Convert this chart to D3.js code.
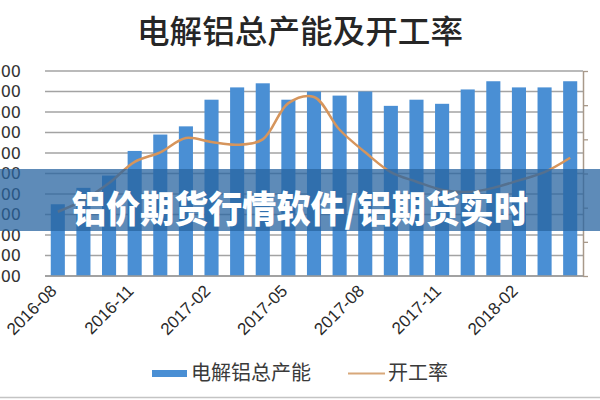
<!DOCTYPE html>
<html><head><meta charset="utf-8">
<script src="https://cdn.jsdelivr.net/npm/d3@7/dist/d3.min.js"></script>
<style>html,body{margin:0;padding:0;background:#fff;overflow:hidden}</style>
</head><body><svg id="c" width="600" height="400"></svg>
<script>
const categories = ["2016-08","2016-09","2016-10","2016-11","2016-12","2017-01","2017-02","2017-03","2017-04","2017-05","2017-06","2017-07","2017-08","2017-09","2017-10","2017-11","2017-12","2018-01","2018-02","2018-03","2018-04"];
const capacity = [3950,4030,4090,4210,4290,4330,4460,4520,4540,4460,4500,4480,4500,4430,4460,4440,4510,4550,4520,4520,4550];
const utilization = [0.694,0.711,0.736,0.767,0.781,0.802,0.796,0.792,0.800,0.853,0.862,0.814,0.781,0.752,0.738,0.726,0.723,0.729,0.740,0.752,0.773];
const leftTicks = [3600,3700,3800,3900,4000,4100,4200,4300,4400,4500,4600];
const rightTicks = [0.60,0.65,0.70,0.75,0.80,0.85,0.90];
const xTickLabels = ["2016-08","2016-11","2017-02","2017-05","2017-08","2017-11","2018-02"];
const titleText = "电解铝总产能及开工率";
const seriesNames = ["电解铝总产能","开工率"];
const bannerText = "铝价期货行情软件/铝期货实时";

const svg = d3.select("#c");
const L = 45, R = 583, T = 71, B = 276;
const x = d3.scaleBand().domain(categories).range([L, R]).paddingInner(0.45).paddingOuter(0.225);
const yL = d3.scaleLinear().domain([3600, 4600]).range([B, T]);
const yR = d3.scaleLinear().domain([0.60, 0.90]).range([B, T]);

// gridlines
svg.append("g").selectAll("line").data(leftTicks).join("line")
  .attr("x1", L).attr("x2", R).attr("y1", d => yL(d)).attr("y2", d => yL(d))
  .attr("stroke", "#a3a3a3").attr("stroke-width", 1.3);

// left axis labels (the reference is cropped at its left edge)
const gLeft = svg.append("g").attr("transform", `translate(${L},0)`)
  .call(d3.axisLeft(yL).tickValues(leftTicks).tickFormat(d3.format(",")).tickSize(0).tickPadding(24));
gLeft.select(".domain").remove();
gLeft.selectAll("text").attr("font-family", "DejaVu Sans").attr("font-size", 16).attr("fill", "#333");

// bars
svg.append("g").selectAll("rect").data(categories).join("rect")
  .attr("x", d => x(d)).attr("width", x.bandwidth())
  .attr("y", (d, i) => yL(capacity[i])).attr("height", (d, i) => B - yL(capacity[i]))
  .attr("fill", "#4a8fd4");

// line
const line = d3.line().x((d, i) => x(categories[i]) + x.bandwidth() / 2).y(d => yR(d)).curve(d3.curveCatmullRom.alpha(0.5));
svg.append("path").datum(utilization).attr("d", line)
  .attr("fill", "none").attr("stroke", "#d6955c").attr("stroke-width", 2.5);

// baseline
svg.append("line").attr("x1", L).attr("x2", R).attr("y1", B).attr("y2", B).attr("stroke", "#9a9a9a").attr("stroke-width", 1.3);

// right axis (labels lie outside the cropped picture, so none are drawn)
const gRight = svg.append("g").attr("transform", `translate(${R},0)`)
  .call(d3.axisRight(yR).tickValues(rightTicks).tickFormat(() => "").tickSizeInner(5).tickSizeOuter(0));
gRight.select(".domain").attr("stroke", "#a8998a").attr("stroke-width", 1.5);
gRight.selectAll(".tick line").attr("stroke", "#a8998a").attr("stroke-width", 1.3);

// x axis labels
const gx = svg.append("g").attr("transform", `translate(0,${B})`)
  .call(d3.axisBottom(x).tickValues(xTickLabels).tickSize(0).tickPadding(0));
gx.select(".domain").remove();
gx.selectAll("text")
  .attr("font-family", "Liberation Sans").attr("font-size", 17).attr("fill", "#2a2a2a")
  .attr("text-anchor", "end").attr("dy", 0)
  .attr("transform", "translate(0,16) rotate(-45)");

// title
svg.append("text").attr("x", 300).attr("y", 43).attr("text-anchor", "middle")
  .attr("font-family", "Noto Sans CJK SC").attr("font-size", 32).attr("font-weight", 500)
  .attr("fill", "#262626").attr("textLength", 326).attr("lengthAdjust", "spacingAndGlyphs").text(titleText);

// legend
const lg = svg.append("g");
lg.append("rect").attr("x", 152).attr("y", 370).attr("width", 35).attr("height", 7).attr("fill", "#4a8fd4");
lg.append("text").attr("x", 191).attr("y", 380).attr("font-family", "Noto Sans CJK SC").attr("font-size", 20).attr("fill", "#3a3a3a").text(seriesNames[0]);
lg.append("line").attr("x1", 348).attr("x2", 385).attr("y1", 373.5).attr("y2", 373.5).attr("stroke", "#d8a87a").attr("stroke-width", 2);
lg.append("text").attr("x", 388).attr("y", 380).attr("font-family", "Noto Sans CJK SC").attr("font-size", 20).attr("fill", "#3a3a3a").text(seriesNames[1]);

// bottom frame line
svg.append("line").attr("x1", 0).attr("x2", 600).attr("y1", 397.5).attr("y2", 397.5).attr("stroke", "#c4c4c4").attr("stroke-width", 1.5);

// banner overlay
svg.append("rect").attr("x", 0).attr("y", 169).attr("width", 600).attr("height", 62)
  .attr("fill", "rgb(40,100,160)").attr("fill-opacity", 0.75);
svg.append("text").attr("x", 300).attr("y", 207).attr("text-anchor", "middle").attr("dominant-baseline", "central")
  .attr("font-family", "Noto Sans CJK SC").attr("font-size", 37).attr("font-weight", 900)
  .attr("fill", "#fff").attr("textLength", 456).attr("lengthAdjust", "spacingAndGlyphs").text(bannerText);
</script></body></html>
